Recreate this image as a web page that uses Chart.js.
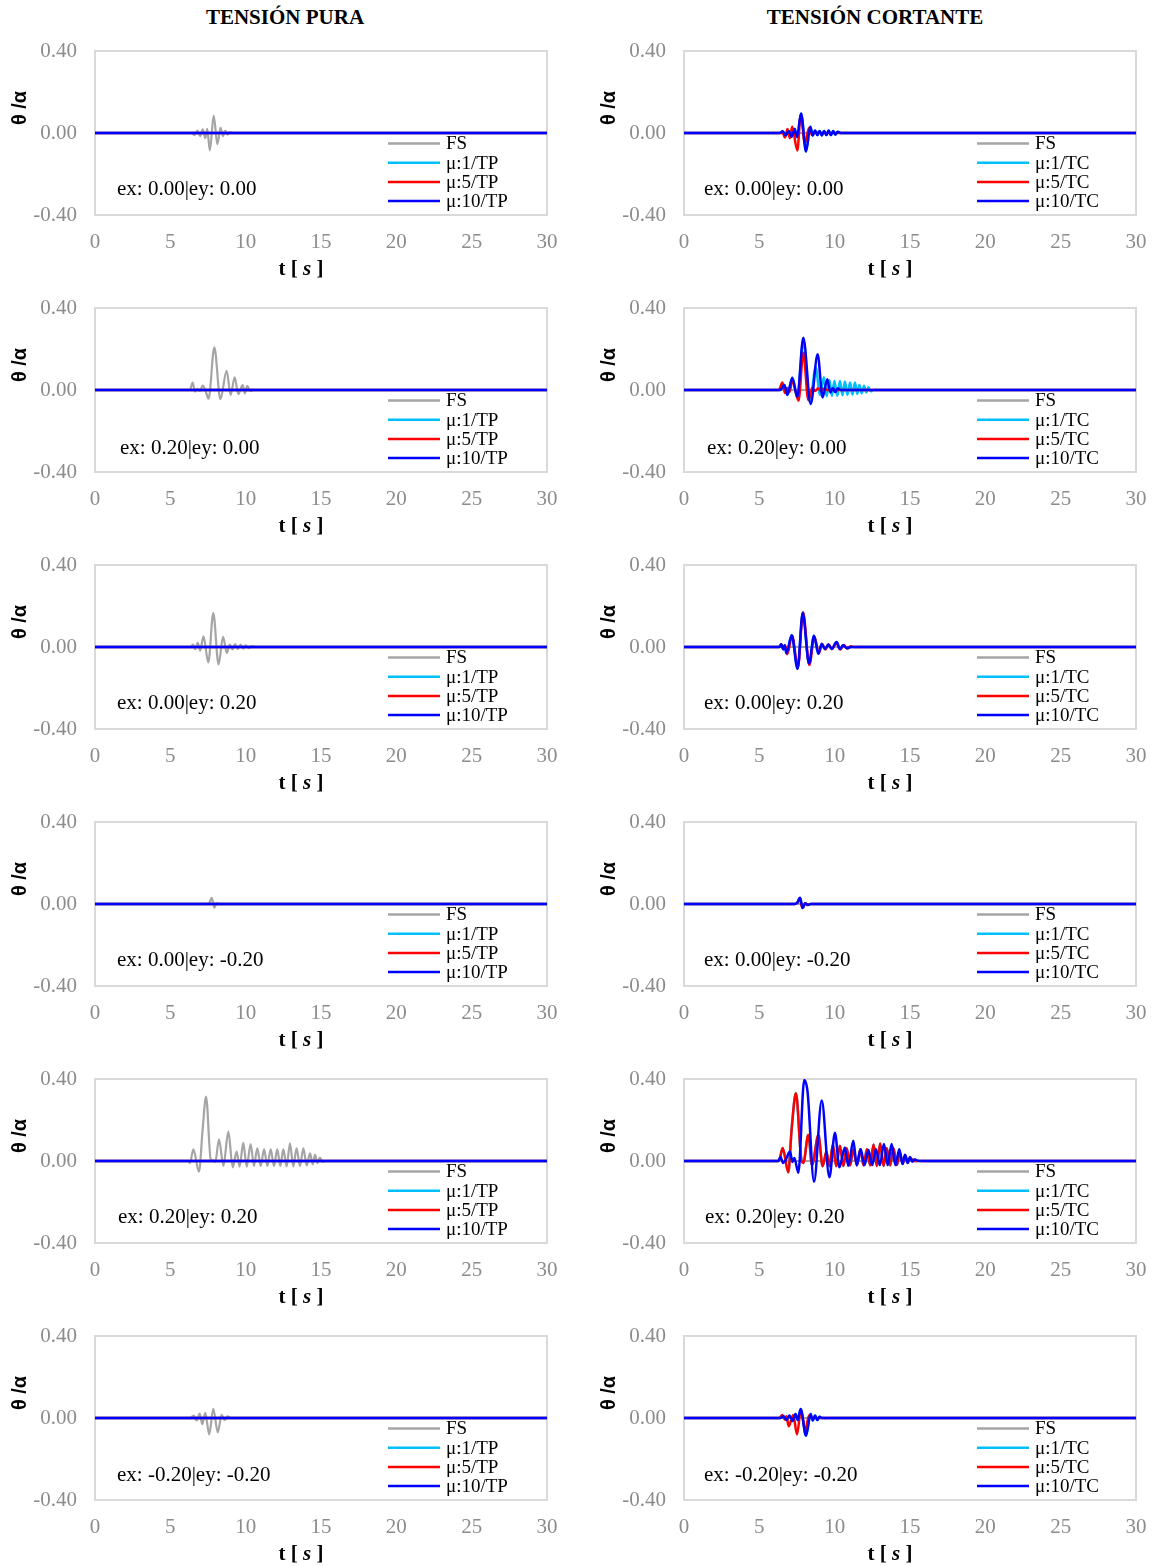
<!DOCTYPE html>
<html>
<head>
<meta charset="utf-8">
<script src="https://cdn.jsdelivr.net/npm/chart.js@4.4.1/dist/chart.umd.min.js"></script>
<style>
  html, body { margin: 0; padding: 0; background: #fff; }
  body { position: relative; width: 1156px; height: 1566px; overflow: hidden; }
  .col-title { position: absolute; top: 5px; width: 400px; text-align: center;
               font: bold 21px "Liberation Serif", "Times New Roman", serif; line-height: 24px; color: #000; }
  canvas { position: absolute; }
</style>
</head>
<body>
<div class="col-title" style="left:85px">TENSIÓN PURA</div>
<div class="col-title" style="left:675px">TENSIÓN CORTANTE</div>

<script>
// ---- axes ----
const xTicks = [0, 5, 10, 15, 20, 25, 30];
const yTicks = [-0.4, 0, 0.4];

// ---- panel notes (eccentricities) ----
const notes = ['ex: 0.00|ey: 0.00', 'ex: 0.20|ey: 0.00', 'ex: 0.00|ey: 0.20',
               'ex: 0.00|ey: -0.20', 'ex: 0.20|ey: 0.20', 'ex: -0.20|ey: -0.20'];

// ---- series labels ----
const labelsPura = ['FS', 'μ:1/TP', 'μ:5/TP', 'μ:10/TP'];
const labelsCort = ['FS', 'μ:1/TC', 'μ:5/TC', 'μ:10/TC'];

// ---- response θ/α vs t [s]:  [t, value] ----
const flat = [[0, 0], [30, 0]];

// Tensión pura – FS (fixed base) response
const fsPura1 = [[0,0],[6.4,0],[6.6,-0.01],[6.8,0.012],[6.98,-0.015],[7.15,0.018],[7.32,-0.025],[7.45,0.02],[7.62,-0.085],[7.88,0.085],[8.12,-0.055],[8.33,0.025],[8.5,-0.015],[8.65,0.012],[8.8,-0.008],[8.95,0.005],[9.1,0],[30,0]];
const fsPura2 = [[0,0],[6.3,0],[6.48,0.036],[6.64,-0.008],[6.8,0.006],[6.97,-0.004],[7.15,0.022],[7.32,0.0],[7.54,-0.042],[7.92,0.208],[8.32,-0.045],[8.74,0.094],[9.0,-0.024],[9.27,0.062],[9.51,-0.02],[9.8,0.024],[9.95,-0.016],[10.1,0.02],[10.3,-0.005],[10.5,0],[30,0]];
const fsPura3 = [[0,0],[6.35,0],[6.5,0.012],[6.65,-0.01],[6.82,0.02],[6.98,-0.018],[7.2,0.052],[7.52,-0.075],[7.85,0.165],[8.2,-0.085],[8.5,0.05],[8.75,-0.03],[8.95,0.012],[9.12,-0.012],[9.3,0.014],[9.48,-0.01],[9.66,0.012],[9.84,-0.008],[10.0,0.008],[10.2,-0.005],[10.4,0.004],[10.7,0],[30,0]];
const fsPura4 = [[0,0],[7.45,0],[7.6,0.008],[7.75,0.03],[7.92,-0.018],[8.08,0.004],[8.25,0],[30,0]];
const fsPura5 = [[0,0],[6.2,0],[6.3,-0.01],[6.53,0.057],[6.9,-0.052],[7.14,0.15],[7.37,0.314],[7.68,0.008],[7.85,0.002],[7.98,-0.006],[8.23,0.106],[8.52,-0.024],[8.85,0.143],[9.14,-0.031],[9.4,0.046],[9.6,-0.028],[9.84,0.089],[10.07,-0.028],[10.33,0.083],[10.55,-0.024],[10.77,0.062],[11.0,-0.024],[11.22,0.057],[11.44,-0.024],[11.66,0.057],[11.88,-0.024],[12.1,0.057],[12.3,-0.024],[12.5,0.057],[12.72,-0.026],[12.94,0.086],[13.16,-0.026],[13.38,0.062],[13.6,-0.024],[13.83,0.062],[14.05,-0.022],[14.27,0.037],[14.45,-0.016],[14.6,0.03],[14.77,-0.01],[14.93,0.016],[15.1,-0.004],[15.3,0],[30,0]];
const fsPura6 = [[0,0],[6.3,0],[6.55,0.012],[6.75,-0.012],[6.95,0.022],[7.12,-0.03],[7.32,0.025],[7.58,-0.08],[7.85,0.045],[8.15,-0.07],[8.4,0.015],[8.6,-0.01],[8.8,0.008],[9.0,0],[30,0]];

// Tensión cortante – μ:10/TC
const blueCort1 = [[0,0],[6.35,0],[6.55,0.008],[6.75,-0.012],[6.95,0.01],[7.15,-0.018],[7.35,0.02],[7.5,-0.02],[7.77,0.095],[8.1,-0.09],[8.38,0.03],[8.55,-0.012],[8.7,0.012],[8.85,-0.01],[9.0,0.01],[9.15,-0.012],[9.3,0.01],[9.45,-0.01],[9.6,0.012],[9.75,-0.01],[9.9,0.01],[10.05,-0.008],[10.2,0.006],[10.4,0],[30,0]];
const blueCort2 = [[0,0],[6.37,0],[6.66,0.024],[6.86,-0.024],[7.19,0.06],[7.52,-0.033],[7.92,0.255],[8.41,-0.068],[8.87,0.174],[9.2,-0.036],[9.51,0.052],[9.72,-0.012],[9.88,0.01],[10.04,-0.01],[10.2,0.008],[10.4,0],[30,0]];
const blueCort3 = [[0,0],[6.33,0],[6.45,0.014],[6.58,-0.01],[6.68,0.008],[6.8,-0.03],[7.15,0.057],[7.54,-0.106],[7.88,0.166],[8.3,-0.081],[8.63,0.055],[8.92,-0.033],[9.14,0.015],[9.36,-0.01],[9.58,0.012],[9.8,-0.01],[10.13,0.024],[10.35,-0.01],[10.57,0.008],[10.8,-0.005],[11.1,0],[30,0]];
const blueCort4 = [[0,0],[7.35,0],[7.52,0.006],[7.7,0.03],[7.88,-0.02],[8.05,0.004],[8.22,-0.005],[8.4,0],[30,0]];
const blueCort5 = [[0,0],[6.26,0],[6.4,0.02],[6.58,-0.01],[6.75,0.005],[7.03,0.046],[7.2,-0.005],[7.32,0.015],[7.59,-0.057],[7.98,0.395],[8.2,0.338],[8.63,-0.101],[9.14,0.295],[9.65,-0.079],[10.02,0.138],[10.31,-0.031],[10.68,0.066],[10.9,-0.024],[11.24,0.099],[11.46,-0.02],[11.73,0.057],[11.98,-0.02],[12.24,0.054],[12.49,-0.02],[12.74,0.057],[13.0,-0.02],[13.27,0.083],[13.52,-0.02],[13.78,0.083],[14.03,-0.02],[14.29,0.057],[14.5,-0.015],[14.67,0.03],[14.84,-0.01],[15.0,0.02],[15.15,-0.004],[15.3,0.008],[15.5,0.002],[15.77,0],[30,0]];
const blueCort6 = [[0,0],[6.4,0],[6.6,0.008],[6.8,-0.01],[7.0,0.012],[7.2,-0.015],[7.4,0.02],[7.55,-0.01],[7.74,0.044],[8.1,-0.086],[8.4,0.02],[8.55,-0.012],[8.7,0.012],[8.85,-0.01],[9.0,0.006],[9.15,0],[30,0]];

// Tensión cortante – μ:5/TC
const redCort1 = [[0,0],[6.55,0],[6.7,-0.022],[6.87,0.02],[7.02,-0.025],[7.18,0.03],[7.52,-0.085],[7.75,0.09],[8.02,-0.05],[8.3,0.025],[8.5,-0.01],[8.7,0.006],[8.9,0],[30,0]];
const redCort2 = [[0,0],[6.3,0],[6.53,0.036],[6.7,-0.015],[6.85,0.01],[7.0,-0.01],[7.19,0.045],[7.6,-0.052],[7.92,0.182],[8.25,-0.049],[8.5,0.01],[8.7,-0.005],[8.9,0.008],[9.1,-0.004],[9.3,0.006],[9.5,0],[30,0]];
const redCort3 = [[0,0],[6.33,0],[6.45,0.012],[6.6,-0.012],[6.72,0.006],[6.85,-0.035],[7.17,0.055],[7.56,-0.1],[7.9,0.17],[8.32,-0.088],[8.65,0.05],[8.95,-0.03],[9.16,0.016],[9.38,-0.012],[9.6,0.012],[9.82,-0.01],[10.1,0.02],[10.38,-0.012],[10.6,0.01],[10.85,-0.008],[11.05,0.004],[11.3,0],[30,0]];
const redCort4 = [[0,0],[7.35,0],[7.52,0.006],[7.68,0.028],[7.86,-0.02],[8.03,0.004],[8.2,-0.004],[8.4,0],[30,0]];
const redCort5 = [[0,0],[6.3,0],[6.55,0.063],[6.92,-0.055],[7.15,0.16],[7.43,0.33],[7.8,0.0],[7.92,-0.01],[8.25,0.127],[8.5,-0.02],[8.92,0.127],[9.2,-0.025],[9.45,0.045],[9.65,-0.025],[9.88,0.08],[10.1,-0.025],[10.35,0.075],[10.58,-0.024],[10.8,0.062],[11.02,-0.022],[11.25,0.057],[11.48,-0.022],[11.7,0.057],[11.92,-0.022],[12.14,0.057],[12.36,-0.022],[12.58,0.08],[12.8,-0.024],[13.02,0.085],[13.24,-0.024],[13.46,0.062],[13.68,-0.022],[13.9,0.062],[14.12,-0.02],[14.34,0.037],[14.52,-0.014],[14.68,0.028],[14.85,-0.008],[15.0,0.014],[15.3,0],[30,0]];
const redCort6 = [[0,0],[6.33,0],[6.52,0.015],[6.7,-0.008],[6.8,0.008],[6.95,-0.04],[7.25,0.015],[7.5,-0.08],[7.76,0.04],[8.05,-0.06],[8.3,0.012],[8.5,0],[30,0]];

// Tensión cortante – μ:1/TC (coincides with μ:10 except in the second case)
const cyanCort2 = [[0,0],[6.37,0],[6.66,0.024],[6.86,-0.024],[7.19,0.06],[7.52,-0.035],[7.92,0.24],[8.35,-0.06],[8.74,0.11],[9.03,-0.025],[9.29,0.062],[9.47,-0.03],[9.65,0.049],[9.82,-0.029],[9.98,0.044],[10.17,-0.028],[10.35,0.044],[10.52,-0.026],[10.68,0.041],[10.85,-0.024],[11.02,0.037],[11.18,-0.022],[11.35,0.036],[11.5,-0.019],[11.64,0.024],[11.8,-0.016],[11.95,0.021],[12.1,-0.012],[12.24,0.013],[12.4,-0.006],[12.57,0],[30,0]];
const cyanCort = [blueCort1, cyanCort2, blueCort3, blueCort4, redCort5, blueCort6];

const colors = ['#a5a5a5', '#00bfff', '#ff0000', '#0000ff'];

const puraSeries = [fsPura1, fsPura2, fsPura3, fsPura4, fsPura5, fsPura6];
const blueCort = [blueCort1, blueCort2, blueCort3, blueCort4, blueCort5, blueCort6];
const redCort = [redCort1, redCort2, redCort3, redCort4, redCort5, redCort6];

// ---- page layout ----
const CW = 567, CH = 257, TOP0 = 31;
const noteXLeft = [117, 120, 117, 117, 118, 117];
const noteXRight = [115, 118, 115, 115, 116, 115];
const noteY = [158, 160, 158, 158, 158, 159];

const serif = '"Liberation Serif", "Times New Roman", serif';

// Box, legend, note and axis titles drawn on each panel
const panelDecor = {
  id: 'panelDecor',
  beforeDatasetsDraw(chart) {
    const { ctx, chartArea: a } = chart;
    ctx.save();
    ctx.strokeStyle = '#d9d9d9';
    ctx.lineWidth = 2;
    ctx.strokeRect(a.left, a.top, a.right - a.left, a.bottom - a.top);
    ctx.restore();
  },
  afterDraw(chart, args, o) {
    const ctx = chart.ctx;
    ctx.save();
    // legend
    ctx.font = '19px ' + serif;
    ctx.textBaseline = 'middle';
    ctx.textAlign = 'left';
    chart.data.datasets.forEach((ds, i) => {
      const y = 112.5 + i * 19.2;
      ctx.strokeStyle = ds.borderColor;
      ctx.lineWidth = 2.5;
      ctx.beginPath(); ctx.moveTo(388, y); ctx.lineTo(440, y); ctx.stroke();
      ctx.fillStyle = '#000';
      ctx.fillText(ds.label, 446, y + 1);
    });
    // eccentricity note
    ctx.font = '21px ' + serif;
    ctx.fillStyle = '#000';
    ctx.fillText(o.note, o.noteX, o.noteY);
    // x-axis title  t [ s ]
    const parts = [['t [ ', 'bold 21px ' + serif], ['s', 'italic bold 21px ' + serif], [' ]', 'bold 21px ' + serif]];
    let total = 0;
    parts.forEach(p => { ctx.font = p[1]; total += ctx.measureText(p[0]).width; });
    let x = 301 - total / 2;
    parts.forEach(p => { ctx.font = p[1]; ctx.fillText(p[0], x, 239); x += ctx.measureText(p[0]).width; });
    // y-axis title
    ctx.translate(20, 77);
    ctx.rotate(-Math.PI / 2);
    ctx.font = 'bold 20px "Liberation Sans", Arial, sans-serif';
    ctx.textAlign = 'center';
    ctx.fillText('θ /α', 0, 0);
    ctx.restore();
  }
};

function makePanel(left, top, series, labels, note, noteX, noteYv) {
  const cv = document.createElement('canvas');
  cv.width = CW; cv.height = CH;
  cv.style.left = left + 'px'; cv.style.top = top + 'px';
  cv.style.width = CW + 'px'; cv.style.height = CH + 'px';
  document.body.appendChild(cv);

  const datasets = series.map((pts, i) => ({
    label: labels[i],
    data: pts.map(p => ({ x: p[0], y: p[1] })),
    borderColor: colors[i],
    backgroundColor: colors[i],
    borderWidth: i === 0 ? 2.2 : 2.5,
    pointRadius: 0,
    fill: false,
    cubicInterpolationMode: 'monotone',
    order: 3 - i
  }));

  new Chart(cv, {
    type: 'line',
    data: { datasets },
    options: {
      responsive: false,
      animation: false,
      devicePixelRatio: 1,
      layout: { padding: { top: 20, right: 20, left: 0, bottom: 0 } },
      plugins: {
        legend: { display: false },
        tooltip: { enabled: false },
        panelDecor: { note, noteX, noteY: noteYv }
      },
      scales: {
        x: {
          type: 'linear', min: 0, max: 30,
          grid: { display: false, drawTicks: false },
          border: { display: false },
          afterBuildTicks: s => { s.ticks = xTicks.map(v => ({ value: v })); },
          afterFit: s => { s.height = 73; s.paddingLeft = 0; s.paddingRight = 0; },
          ticks: { color: '#8c8c8c', padding: 15, maxRotation: 0, autoSkip: false,
                   font: { family: serif, size: 21 }, callback: v => String(v) }
        },
        y: {
          type: 'linear', min: -0.4, max: 0.4,
          grid: { display: false, drawTicks: false },
          border: { display: false },
          afterBuildTicks: s => { s.ticks = yTicks.map(v => ({ value: v })); },
          afterFit: s => { s.width = 95; s.paddingTop = 0; s.paddingBottom = 0; },
          ticks: { color: '#8c8c8c', padding: 18, autoSkip: false,
                   font: { family: serif, size: 21 }, callback: v => Number(v).toFixed(2) }
        }
      }
    },
    plugins: [panelDecor]
  });
}

for (let r = 0; r < 6; r++) {
  const top = TOP0 + r * 257;
  makePanel(0, top, [puraSeries[r], flat, flat, flat], labelsPura, notes[r], noteXLeft[r], noteY[r]);
  makePanel(589, top, [flat, cyanCort[r], redCort[r], blueCort[r]], labelsCort, notes[r], noteXRight[r], noteY[r]);
}
</script>
</body>
</html>
